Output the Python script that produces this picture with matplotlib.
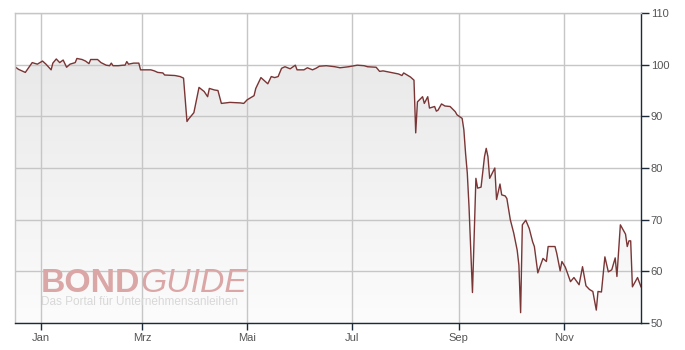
import matplotlib
matplotlib.use("Agg")
import matplotlib.pyplot as plt
import matplotlib.dates as mdates
import numpy as np
import pandas as pd

dates = [
    "2013-12-17", "2013-12-19", "2013-12-23", "2013-12-27", "2013-12-30", "2014-01-02", "2014-01-04",
    "2014-01-07", "2014-01-08", "2014-01-10", "2014-01-12", "2014-01-14", "2014-01-16", "2014-01-18",
    "2014-01-21", "2014-01-22", "2014-01-25", "2014-01-27", "2014-01-29", "2014-01-30", "2014-02-03",
    "2014-02-05", "2014-02-08", "2014-02-10", "2014-02-11", "2014-02-12", "2014-02-15", "2014-02-18",
    "2014-02-19", "2014-02-20", "2014-02-21", "2014-02-24", "2014-02-27", "2014-02-28", "2014-03-06",
    "2014-03-08", "2014-03-10", "2014-03-13", "2014-03-14", "2014-03-20", "2014-03-23", "2014-03-25",
    "2014-03-26", "2014-03-27", "2014-03-28", "2014-03-31", "2014-04-03", "2014-04-06", "2014-04-08",
    "2014-04-09", "2014-04-12", "2014-04-14", "2014-04-16", "2014-04-21", "2014-04-27", "2014-04-29",
    "2014-05-01", "2014-05-05", "2014-05-06", "2014-05-09", "2014-05-13", "2014-05-15", "2014-05-17",
    "2014-05-19", "2014-05-21", "2014-05-23", "2014-05-26", "2014-05-29", "2014-05-30", "2014-06-03",
    "2014-06-05", "2014-06-08", "2014-06-10", "2014-06-12", "2014-06-16", "2014-06-21", "2014-06-24",
    "2014-06-29", "2014-07-04", "2014-07-08", "2014-07-10", "2014-07-15", "2014-07-17", "2014-07-19",
    "2014-07-22", "2014-07-25", "2014-07-28", "2014-07-30", "2014-07-31", "2014-08-04", "2014-08-06",
    "2014-08-07", "2014-08-08", "2014-08-11", "2014-08-12", "2014-08-14", "2014-08-15", "2014-08-18",
    "2014-08-19", "2014-08-20", "2014-08-22", "2014-08-24", "2014-08-27", "2014-08-30", "2014-08-31",
    "2014-09-03", "2014-09-04", "2014-09-05", "2014-09-06", "2014-09-07", "2014-09-09", "2014-09-11",
    "2014-09-12", "2014-09-14", "2014-09-16", "2014-09-17", "2014-09-18", "2014-09-19", "2014-09-22",
    "2014-09-23", "2014-09-25", "2014-09-26", "2014-09-28", "2014-09-29", "2014-10-01", "2014-10-03",
    "2014-10-05", "2014-10-06", "2014-10-07", "2014-10-08", "2014-10-10", "2014-10-12", "2014-10-14",
    "2014-10-15", "2014-10-17", "2014-10-20", "2014-10-22", "2014-10-23", "2014-10-27", "2014-10-28",
    "2014-10-30", "2014-10-31", "2014-11-02", "2014-11-05", "2014-11-07", "2014-11-10", "2014-11-12",
    "2014-11-14", "2014-11-16", "2014-11-18", "2014-11-20", "2014-11-21", "2014-11-23", "2014-11-25",
    "2014-11-27", "2014-11-29", "2014-12-01", "2014-12-02", "2014-12-04", "2014-12-07", "2014-12-08",
    "2014-12-09", "2014-12-10", "2014-12-11", "2014-12-14", "2014-12-16",
]
prices = [
    99.6, 99.1, 98.5, 100.4, 100.1, 100.7, 100.1,
    99.0, 100.3, 101.1, 100.4, 100.9, 99.5, 100.1,
    100.4, 101.2, 101.0, 100.7, 100.2, 101.0, 101.0,
    100.4, 99.9, 99.8, 100.3, 99.8, 99.8, 99.9,
    99.9, 100.6, 100.1, 100.3, 100.3, 99.0, 99.0,
    98.8, 98.5, 98.4, 98.0, 97.9, 97.7, 97.4,
    93.2, 89.0, 89.5, 90.7, 95.6, 94.8, 93.8,
    95.4, 95.1, 95.0, 92.5, 92.7, 92.6, 92.5,
    93.2, 94.0, 95.4, 97.5, 96.3, 97.7, 97.5,
    97.7, 99.3, 99.6, 99.2, 99.9, 99.0, 99.0,
    99.4, 99.0, 99.3, 99.7, 99.8, 99.6, 99.4,
    99.6, 99.9, 99.8, 99.6, 99.5, 98.7, 98.8,
    98.6, 98.4, 98.2, 97.9, 98.4, 97.6, 97.0,
    86.8, 92.8, 93.8, 92.5, 93.8, 91.6, 91.9,
    91.0, 91.2, 92.4, 92.0, 91.9, 90.9, 90.3,
    89.6, 87.4, 82.8, 79.0, 72.5, 55.9, 78.0,
    76.1, 76.3, 82.2, 83.8, 82.2, 78.0, 80.0,
    73.9, 76.9, 74.8, 74.6, 74.1, 70.0, 67.4,
    64.1, 61.2, 52.0, 69.0, 69.9, 68.3, 65.7,
    64.8, 59.7, 62.5, 61.9, 64.8, 64.8, 63.5,
    60.1, 61.9, 60.8, 58.0, 58.8, 57.4, 60.9,
    57.2, 56.5, 56.1, 52.5, 56.1, 56.0, 62.8,
    59.9, 60.3, 62.6, 59.0, 69.0, 67.2, 64.8,
    65.9, 65.9, 57.0, 58.8, 57.0,
]
y_ticks = [50, 60, 70, 80, 90, 100, 110]
month_ticks = ["2014-01-01", "2014-03-01", "2014-05-01", "2014-07-01", "2014-09-01", "2014-11-01"]
month_labels = ["Jan", "Mrz", "Mai", "Jul", "Sep", "Nov"]

x = pd.to_datetime(dates)
xn = mdates.date2num(x)
x_lo = mdates.date2num(pd.Timestamp("2013-12-17"))
x_hi = mdates.date2num(pd.Timestamp("2014-12-16"))

fig = plt.figure(figsize=(6.85, 3.5), dpi=100)
ax = fig.add_axes([15 / 685, 27 / 350, 626 / 685, 310 / 350])

# gradient fill under the line
poly = ax.fill_between(xn, prices, 50, color="none", lw=0)
grad = np.linspace(0, 1, 256).reshape(-1, 1)
cmap = matplotlib.colors.LinearSegmentedColormap.from_list("g", ["#fcfcfc", "#e9e9e9"])
im = ax.imshow(grad, extent=[xn[0], xn[-1], 50, 101.5], origin="lower", aspect="auto",
               cmap=cmap, zorder=1)
im.set_clip_path(poly.get_paths()[0], transform=ax.transData)
ax.set_xlim(x_lo, x_hi)
ax.set_ylim(50, 110)

# grid
for yt in y_ticks:
    ax.axhline(yt, color="#c6c6c6", lw=1, zorder=2)
for mt in month_ticks:
    ax.axvline(mdates.date2num(pd.Timestamp(mt)), color="#c6c6c6", lw=1, zorder=2)

ax.plot(xn, prices, color="#7a3535", lw=1.0, zorder=5)

# axes styling
ax.yaxis.tick_right()
ax.set_yticks(y_ticks)
ax.set_yticklabels([str(v) for v in y_ticks])
ax.set_xticks([mdates.date2num(pd.Timestamp(m)) for m in month_ticks])
ax.set_xticklabels(month_labels)
ax.tick_params(axis="y", direction="out", length=6, width=1, color="#1c2a3a",
               labelsize=8, labelcolor="#555555", pad=1)
ax.tick_params(axis="x", direction="out", length=5, width=1, color="#1c2a3a",
               labelsize=8, labelcolor="#555555", pad=2)
for lbl in ax.get_xticklabels() + ax.get_yticklabels():
    lbl.set_fontfamily("Liberation Sans")
ax.spines["right"].set_color("#1c2a3a")
ax.spines["bottom"].set_color("#1c2a3a")
ax.spines["left"].set_color("#c6c6c6")
ax.spines["top"].set_color("#c6c6c6")
for s in ax.spines.values():
    s.set_linewidth(1)
    s.set_zorder(6)

# watermark
t1 = fig.text(41 / 685, 1 - 292 / 350, "BOND", fontsize=24.3, fontweight="bold",
              color="#dba6a6", family="Liberation Sans", zorder=4)
ax.annotate("GUIDE", xy=(1, 0), xycoords=t1, xytext=(0, 0), textcoords="offset points",
            fontsize=24.3, fontstyle="italic", color="#dba6a6", family="Liberation Sans",
            va="bottom", ha="left", zorder=4, annotation_clip=False)
fig.text(41 / 685, 1 - 305 / 350, "Das Portal für Unternehmensanleihen", fontsize=8.5,
         color="#d8d8d8", family="Liberation Sans", zorder=4)

fig.savefig("out.png", dpi=100)
